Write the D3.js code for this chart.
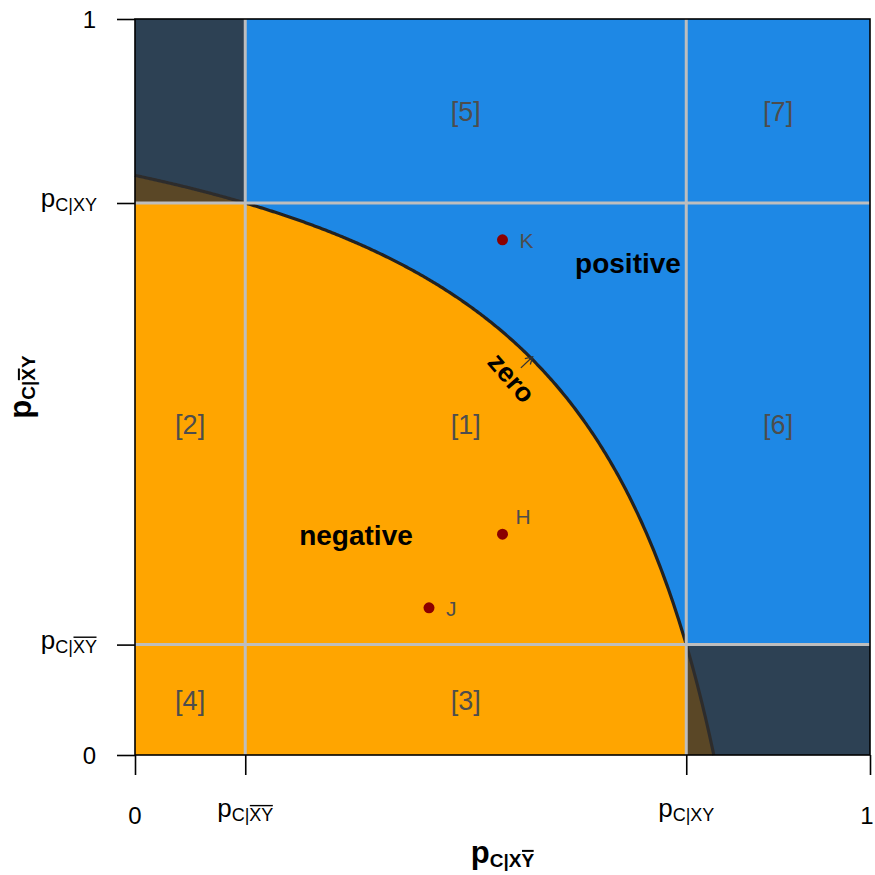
<!DOCTYPE html>
<html>
<head>
<meta charset="utf-8">
<script src="https://cdn.jsdelivr.net/npm/d3@7"></script>
<style>
  html, body { margin: 0; padding: 0; background: #fff; }
  svg text { font-family: "Liberation Sans", Arial, Helvetica, sans-serif; }
</style>
</head>
<body>
<svg id="chart" width="875" height="875"></svg>
<script>
// ---------------- data ----------------
const pXbarYbar = 0.15;   // p_{C|X̄Ȳ}
const pXY = 0.75;         // p_{C|XY}
const tickValues = [0, pXbarYbar, pXY, 1];
// tick labels: base text, subscript plain part, subscript overlined part
const tickBase = ["0", "p", "p", "1"];
const tickSub = ["", "C|", "C|XY", ""];
const tickBar = ["", "XY", "", ""];

const regionNames = ["[1]", "[2]", "[3]", "[4]", "[5]", "[6]", "[7]"];
const regionCol = [1, 0, 1, 0, 1, 2, 2];
const regionRow = [1, 1, 0, 0, 2, 1, 2];

const pointNames = ["K", "H", "J"];
const pointX = [0.5, 0.5, 0.4];
const pointY = [0.7, 0.3, 0.2];

const zoneNames = ["positive", "negative", "zero"];

// ---------------- layout / style ----------------
const svg = d3.select("#chart");
const mLeft = 135, mRight = 870, mTop = 19, mBottom = 755;
const x = d3.scaleLinear().domain([0, 1]).range([mLeft, mRight]);
const y = d3.scaleLinear().domain([0, 1]).range([mBottom, mTop]);

const colBlue = "#1E88E5", colOrange = "#FFA500";
const grey = "#BEBEBE", labelGrey = "#4D4D4D";

// zero-interaction boundary: (1-x)(1-y) = (1-pXY)(1-pXbarYbar)
const kk = (1 - pXY) * (1 - pXbarYbar);
const xEnd = 1 - kk;
const curveX = d3.range(0, xEnd, 0.002).concat([xEnd]);
const curvePts = curveX.map(v => [v, Math.max(0, 1 - kk / (1 - v))]);

// background positive
svg.append("rect").attr("x", x(0)).attr("y", y(1))
  .attr("width", x(1) - x(0)).attr("height", y(0) - y(1)).attr("fill", colBlue);

// negative region
const area = d3.area().x(d => x(d[0])).y0(y(0)).y1(d => y(d[1]));
svg.append("path").datum(curvePts).attr("d", area).attr("fill", colOrange);

// zero line
const line = d3.line().x(d => x(d[0])).y(d => y(d[1]));
svg.append("path").datum(curvePts).attr("d", line)
  .attr("fill", "none").attr("stroke", "#222").attr("stroke-width", 3.2);

// dark corner overlays
const corners = [[0, pXbarYbar, pXY, 1], [pXY, 1, 0, pXbarYbar]];
svg.selectAll("rect.corner").data(corners).join("rect").attr("class", "corner")
  .attr("x", d => x(d[0])).attr("y", d => y(d[3]))
  .attr("width", d => x(d[1]) - x(d[0])).attr("height", d => y(d[2]) - y(d[3]))
  .attr("fill", "rgb(49,47,47)").attr("fill-opacity", 0.8);

// grid lines
const gridVals = [pXbarYbar, pXY];
svg.selectAll("line.gv").data(gridVals).join("line").attr("class", "gv")
  .attr("x1", d => x(d)).attr("x2", d => x(d)).attr("y1", y(0)).attr("y2", y(1))
  .attr("stroke", grey).attr("stroke-width", 3);
svg.selectAll("line.gh").data(gridVals).join("line").attr("class", "gh")
  .attr("y1", d => y(d)).attr("y2", d => y(d)).attr("x1", x(0)).attr("x2", x(1))
  .attr("stroke", grey).attr("stroke-width", 3);

// region labels
const colEdges = [0, pXbarYbar, pXY, 1];
svg.selectAll("text.reg").data(regionNames).join("text").attr("class", "reg")
  .attr("x", (d, i) => x((colEdges[regionCol[i]] + colEdges[regionCol[i] + 1]) / 2))
  .attr("y", (d, i) => y((colEdges[regionRow[i]] + colEdges[regionRow[i] + 1]) / 2) + 10)
  .attr("text-anchor", "middle").attr("font-size", 27).attr("fill", labelGrey)
  .text(d => d);

// zone labels
svg.append("text").attr("x", 628).attr("y", 273).attr("text-anchor", "middle")
  .attr("font-size", 28).attr("font-weight", "bold").text(zoneNames[0]);
svg.append("text").attr("x", 356).attr("y", 545).attr("text-anchor", "middle")
  .attr("font-size", 28).attr("font-weight", "bold").text(zoneNames[1]);
// zero label + arrow
const zx = 0.512, zy = 0.512;
svg.append("text")
  .attr("transform", `translate(${x(zx)},${y(zy)}) rotate(49)`)
  .attr("text-anchor", "middle").attr("dy", 9)
  .attr("font-size", 27).attr("font-weight", "bold").text(zoneNames[2]);
const ax0 = [0.525, 0.526], ax1 = [0.541, 0.541];
svg.append("line").attr("x1", x(ax0[0])).attr("y1", y(ax0[1]))
  .attr("x2", x(ax1[0])).attr("y2", y(ax1[1]))
  .attr("stroke", "#333").attr("stroke-width", 1.3);
{
  const X1 = x(ax1[0]), Y1 = y(ax1[1]);
  const ang = Math.atan2(Y1 - y(ax0[1]), X1 - x(ax0[0]));
  const L = 8, a = Math.PI / 6;
  svg.append("path")
    .attr("d", `M${X1 - L * Math.cos(ang - a)},${Y1 - L * Math.sin(ang - a)}L${X1},${Y1}L${X1 - L * Math.cos(ang + a)},${Y1 - L * Math.sin(ang + a)}`)
    .attr("fill", "none").attr("stroke", "#333").attr("stroke-width", 1.3);
}

// points
const labelDx = [17, 13, 17], labelDy = [8, -10, 8];
svg.selectAll("circle.pt").data(pointNames).join("circle").attr("class", "pt")
  .attr("cx", (d, i) => x(pointX[i])).attr("cy", (d, i) => y(pointY[i]))
  .attr("r", 5.5).attr("fill", "#8B0000");
svg.selectAll("text.pt").data(pointNames).join("text").attr("class", "pt")
  .attr("x", (d, i) => x(pointX[i]) + labelDx[i]).attr("y", (d, i) => y(pointY[i]) + labelDy[i])
  .attr("font-size", 21).attr("fill", labelGrey).text(d => d);

// box
svg.append("rect").attr("x", x(0)).attr("y", y(1))
  .attr("width", x(1) - x(0)).attr("height", y(0) - y(1))
  .attr("fill", "none").attr("stroke", "#000").attr("stroke-width", 1.6);

// axes (ticks)
const xAxis = d3.axisBottom(x).tickValues(tickValues).tickFormat("").tickSize(20).tickSizeOuter(0);
const yAxis = d3.axisLeft(y).tickValues(tickValues).tickFormat("").tickSize(18).tickSizeOuter(0);
const gx = svg.append("g").attr("transform", `translate(0,${mBottom})`).call(xAxis);
const gy = svg.append("g").attr("transform", `translate(${mLeft},0)`).call(yAxis);
[gx, gy].forEach(g => {
  g.select(".domain").remove();
  g.selectAll(".tick line").attr("stroke", "#000").attr("stroke-width", 1.6);
});

// math label helper: base + subscript (plain + overlined parts)
function mathLabel(parent, tx, ty, rot, base, subPlain, subBar, o) {
  const g = parent.append("g").attr("transform", `translate(${tx},${ty}) rotate(${rot})`);
  const t = g.append("text").attr("text-anchor", o.anchor).attr("font-weight", o.weight || "normal")
    .attr("fill", "#000");
  t.append("tspan").attr("font-size", o.baseSize).text(base);
  if (subPlain || subBar) {
    const sub = subPlain + subBar;
    t.append("tspan").attr("font-size", o.subSize).attr("dy", o.subDy).text(sub);
    if (subBar && o.barChars) {
      const node = t.node();
      const startIdx = base.length + o.barChars[0];
      const endIdx = base.length + o.barChars[1];
      const e0 = node.getExtentOfChar(startIdx);
      const e1 = node.getExtentOfChar(endIdx);
      const ly = o.subDy - o.subSize * 0.716 - 2.5;
      g.append("line").attr("x1", e0.x + 0.5).attr("x2", e1.x + e1.width - 0.5)
        .attr("y1", ly).attr("y2", ly)
        .attr("stroke", "#000").attr("stroke-width", o.weight === "bold" ? 2 : 1.4);
    }
  }
  return g;
}

// y tick labels
tickValues.forEach((v, i) => {
  if (tickSub[i] === "" && tickBar[i] === "") {
    svg.append("text").attr("x", 96).attr("y", y(v) + 9).attr("text-anchor", "end")
      .attr("font-size", 24).text(tickBase[i]);
  } else {
    const sp = tickSub[i], sb = tickBar[i];
    mathLabel(svg, 97, y(v) + 4, 0, tickBase[i], sp, sb,
      { anchor: "end", baseSize: 26, subSize: 18, subDy: 4,
        barChars: sb ? [sp.length, sp.length + sb.length - 1] : null });
  }
});
// x tick labels
tickValues.forEach((v, i) => {
  if (tickSub[i] === "" && tickBar[i] === "") {
    svg.append("text").attr("x", i === tickValues.length - 1 ? x(v) - 3 : x(v)).attr("y", 824)
      .attr("text-anchor", "middle").attr("font-size", 24).text(tickBase[i]);
  } else {
    const sp = tickSub[i], sb = tickBar[i];
    mathLabel(svg, x(v), 817, 0, tickBase[i], sp, sb,
      { anchor: "middle", baseSize: 26, subSize: 18, subDy: 4,
        barChars: sb ? [sp.length, sp.length + sb.length - 1] : null });
  }
});

// axis titles
mathLabel(svg, (mLeft + mRight) / 2, 863, 0, "p", "C|X", "Y",
  { anchor: "middle", baseSize: 31, subSize: 19, subDy: 4, weight: "bold", barChars: [3, 3] });
mathLabel(svg, 31, (mTop + mBottom) / 2, -90, "p", "C|", "XY",
  { anchor: "middle", baseSize: 31, subSize: 19, subDy: 4, weight: "bold", barChars: [2, 2] });
</script>
</body>
</html>
